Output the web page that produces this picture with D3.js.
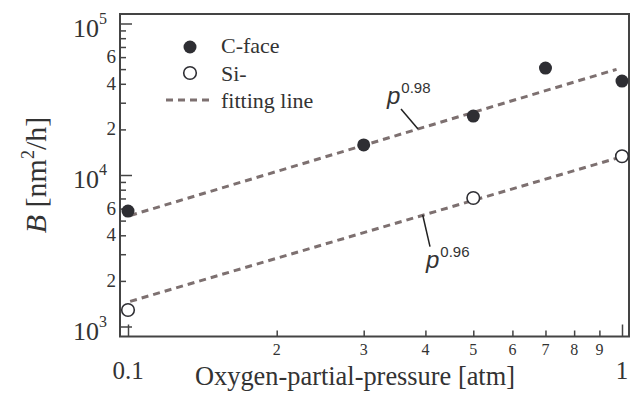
<!DOCTYPE html>
<html><head><meta charset="utf-8">
<script src="https://cdn.jsdelivr.net/npm/d3@7"></script>
<style>body{margin:0;background:#fff;}svg{display:block;}</style>
</head><body>
<svg id="c" width="631" height="397"></svg>
<script>
// ---- data ----
const cFaceP = [0.1, 0.3, 0.5, 0.7, 1.0];
const cFaceB = [5780, 15800, 24500, 50800, 41700];
const siFaceP = [0.1, 0.5, 1.0];
const siFaceB = [1285, 7050, 13300];
// fitting lines B = A * p^n
const fitExp = [0.98, 0.96];
const fitB01 = [5350, 1450];      // value at p = 0.1
const fitRange = [0.101, 0.975];
const xMinorTicks = [0.2, 0.3, 0.4, 0.5, 0.6, 0.7, 0.8, 0.9];
const xMinorLabels = ["2", "3", "4", "5", "6", "7", "8", "9"];
const xMajorTicks = [0.1, 1];
const xMajorLabels = ["0.1", "1"];
const yMajorTicks = [1e3, 1e4, 1e5];
const yMajorExp = ["3", "4", "5"];
const yMinorTicks = [2e3,3e3,4e3,5e3,6e3,7e3,8e3,9e3,2e4,3e4,4e4,5e4,6e4,7e4,8e4,9e4];
const yLabeledMinor = [2e3, 4e3, 6e3, 2e4, 4e4, 6e4];
const legendLabels = ["C-face", "Si-", "fitting line"];

// ---- layout ----
const svg = d3.select("#c");
const L = 120, R = 629, T = 14, B = 336.5;
const x = d3.scaleLog().domain([0.1, 1]).range([128, 622]);
const y = d3.scaleLog().domain([1e3, 1e5]).range([326.5, 23.5]);
const axisCol = "#444", textCol = "#333", dashCol = "#7d7070", dotCol = "#2e2e33";
const serif = "'Liberation Serif','Times New Roman',serif";
const sans = "'Liberation Sans',Arial,sans-serif";

// frame
svg.append("rect").attr("x", L).attr("y", T).attr("width", R - L).attr("height", B - T)
  .attr("fill", "none").attr("stroke", axisCol).attr("stroke-width", 2);

// x axis ticks (inside)
const xAxisMinor = d3.axisBottom(x).tickValues(xMinorTicks).tickSize(-6).tickFormat("");
const xAxisMajor = d3.axisBottom(x).tickValues(xMajorTicks).tickSize(-12).tickFormat("");
[xAxisMinor, xAxisMajor].forEach(ax => {
  const g = svg.append("g").attr("transform", `translate(0,${B})`).call(ax);
  g.select(".domain").remove();
  g.selectAll("line").attr("stroke", axisCol).attr("stroke-width", 1.5);
});
svg.append("g").selectAll("text").data(xMinorTicks).join("text")
  .attr("x", d => x(d)).attr("y", 355).attr("text-anchor", "middle")
  .attr("font-family", serif).attr("font-size", 16).attr("fill", textCol)
  .text((d, i) => xMinorLabels[i]);
svg.append("g").selectAll("text").data(xMajorTicks).join("text")
  .attr("x", d => x(d)).attr("y", 379).attr("text-anchor", "middle")
  .attr("font-family", serif).attr("font-size", 25).attr("fill", textCol)
  .text((d, i) => xMajorLabels[i]);

// y axis ticks (inside)
const yAxisMinor = d3.axisLeft(y).tickValues(yMinorTicks).tickSize(-6).tickFormat("");
const yAxisMajor = d3.axisLeft(y).tickValues(yMajorTicks).tickSize(-12).tickFormat("");
[yAxisMinor, yAxisMajor].forEach(ax => {
  const g = svg.append("g").attr("transform", `translate(${L},0)`).call(ax);
  g.select(".domain").remove();
  g.selectAll("line").attr("stroke", axisCol).attr("stroke-width", 1.5);
});
svg.append("g").selectAll("text").data(yLabeledMinor).join("text")
  .attr("x", 116).attr("y", d => y(d) + 6).attr("text-anchor", "end")
  .attr("font-family", serif).attr("font-size", 19).attr("fill", textCol)
  .text(d => String(+d.toExponential().split("e")[0]));
const ymaj = svg.append("g").selectAll("text").data(yMajorTicks).join("text")
  .attr("x", 73).attr("y", d => y(d) + 13)
  .attr("font-family", serif).attr("font-size", 26).attr("fill", textCol);
ymaj.append("tspan").text("10");
ymaj.append("tspan").attr("dy", -13).attr("font-size", 16).text((d, i) => yMajorExp[i]);

// axis titles
svg.append("text").attr("x", 355).attr("y", 385).attr("text-anchor", "middle")
  .attr("font-family", serif).attr("font-size", 27).attr("fill", textCol)
  .attr("textLength", 320).attr("lengthAdjust", "spacingAndGlyphs")
  .text("Oxygen-partial-pressure [atm]");
const yt = svg.append("text").attr("transform", "translate(46,175) rotate(-90)")
  .attr("text-anchor", "middle").attr("font-family", serif).attr("font-size", 30).attr("fill", textCol);
yt.append("tspan").attr("font-style", "italic").text("B");
yt.append("tspan").text(" [nm");
yt.append("tspan").attr("dy", -12).attr("font-size", 18).text("2");
yt.append("tspan").attr("dy", 12).text("/h]");

// fitting lines
const fitLine = d3.line().x(d => x(d[0])).y(d => y(d[1]));
fitExp.forEach((n, i) => {
  const pts = fitRange.map(p => [p, fitB01[i] * Math.pow(p / 0.1, n)]);
  svg.append("path").attr("d", fitLine(pts)).attr("fill", "none")
    .attr("stroke", dashCol).attr("stroke-width", 3).attr("stroke-dasharray", "7,5");
});

// points
svg.append("g").selectAll("circle").data(cFaceP).join("circle")
  .attr("cx", d => x(d)).attr("cy", (d, i) => y(cFaceB[i])).attr("r", 6.5).attr("fill", dotCol);
svg.append("g").selectAll("circle").data(siFaceP).join("circle")
  .attr("cx", d => x(d)).attr("cy", (d, i) => y(siFaceB[i])).attr("r", 6.3)
  .attr("fill", "#fff").attr("stroke", dotCol).attr("stroke-width", 1.6);

// annotations
function annot(px, py, lx1, ly1, lx2, ly2, expo) {
  svg.append("line").attr("x1", lx1).attr("y1", ly1).attr("x2", lx2).attr("y2", ly2)
    .attr("stroke", "#222").attr("stroke-width", 1.5);
  const t = svg.append("text").attr("x", px).attr("y", py).attr("font-family", sans).attr("fill", "#333");
  t.append("tspan").attr("font-size", 24).attr("font-style", "italic").text("p");
  t.append("tspan").attr("font-size", 15).attr("dy", -11).attr("dx", 1).text(expo);
}
annot(387, 104, 401, 109, 418, 129, "0.98");
annot(426, 268, 422.7, 215, 430, 246.7, "0.96");

// legend
const lg = svg.append("g");
lg.append("circle").attr("cx", 190).attr("cy", 47).attr("r", 6.5).attr("fill", dotCol);
lg.append("circle").attr("cx", 190).attr("cy", 73).attr("r", 6.3).attr("fill", "#fff")
  .attr("stroke", dotCol).attr("stroke-width", 1.6);
lg.append("line").attr("x1", 166).attr("x2", 210).attr("y1", 100).attr("y2", 100)
  .attr("stroke", dashCol).attr("stroke-width", 3).attr("stroke-dasharray", "7,5");
lg.selectAll("text").data(legendLabels).join("text")
  .attr("x", 221).attr("y", (d, i) => 53 + i * 27.5)
  .attr("font-family", serif).attr("font-size", 22).attr("fill", textCol).text(d => d);
</script>
</body></html>
